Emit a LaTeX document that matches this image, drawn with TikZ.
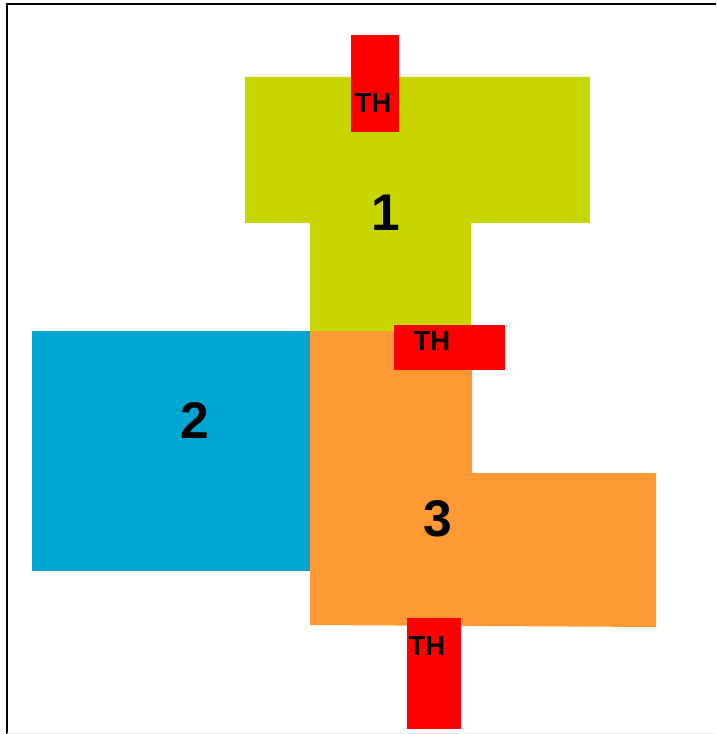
\documentclass[tikz,border=0pt]{standalone}
\usepackage{fontspec}
\setmainfont{Liberation Sans}
\definecolor{vertT}{RGB}{200,214,0}
\definecolor{bleuZ}{RGB}{0,166,210}
\definecolor{orangeZ}{RGB}{255,153,51}
\definecolor{rougeTH}{RGB}{255,0,0}
\begin{document}
\begin{tikzpicture}[x=0.03cm,y=-0.03cm,
    zone/.style={draw=none},
    num/.style={inner sep=0pt,font=\fontsize{44}{44}\selectfont\bfseries},
    th/.style={inner sep=0pt,font=\fontsize{23.5}{24}\selectfont\bfseries},
  ]
    \useasboundingbox (0,0) rectangle (716,734);
    \fill[white] (0,0) rectangle (716,734);

    % cadre
    \draw[line width=1.6pt] (7,734) -- (7,4) -- (716,4);
    \draw[gray!15,line width=0.8pt] (7,733) -- (716,733);

    % zones
    \fill[vertT] (245,77) -- (590,77) -- (590,223) -- (471,223)
      -- (471,331) -- (310,331) -- (310,223) -- (245,223) -- cycle;
    \fill[bleuZ] (32,331) rectangle (310,571);
    \fill[orangeZ] (310,331) -- (472,331) -- (472,473) -- (656,473)
      -- (656,627) -- (310,625) -- cycle;

    % TH
    \fill[rougeTH] (351,35) rectangle (399,132);
    \fill[rougeTH] (394,325) rectangle (505,370);
    \fill[rougeTH] (407,618) rectangle (461,729);

    \node[num] (n1) at (386,213) {1};
    \node[num] (n2) at (195,420) {2};
    \node[num] (n3) at (438,519) {3};

    \node[th] (th1) at (373,103) {TH};
    \node[th] (th2) at (432,341) {TH};
    \node[th] (th3) at (427,646) {TH};
\end{tikzpicture}
\end{document}
